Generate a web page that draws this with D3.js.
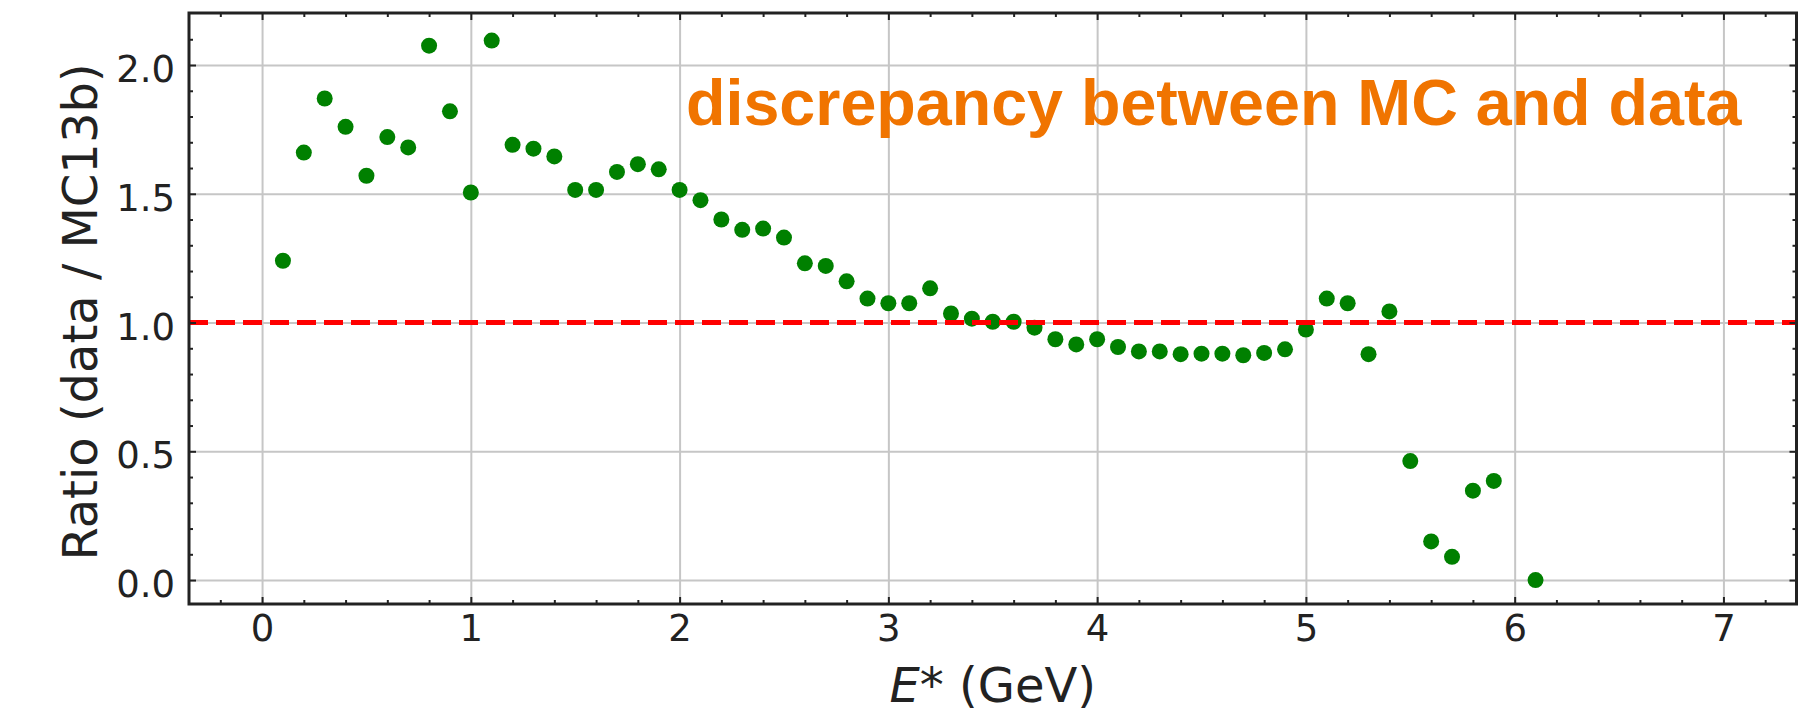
<!DOCTYPE html>
<html>
<head>
<meta charset="utf-8">
<script src="https://cdn.jsdelivr.net/npm/d3@7"></script>
<style>
  body { margin: 0; background: #fff; }
  svg { display: block; font-family: 'DejaVu Sans', sans-serif; }
  .grid line { stroke: #c6c6c6; stroke-width: 2; }
  .grid .domain { display: none; }
  .ticks line { stroke: #222; stroke-width: 2; }
  .ticks .domain { display: none; }
  .tick-label { font-family: 'DejaVu Sans', sans-serif; font-size: 37px; fill: #222; }
  .axis-label { font-family: 'DejaVu Sans', sans-serif; font-size: 48px; fill: #222; }
  .title { font-family: 'Liberation Sans', Arial, sans-serif; font-weight: bold; font-size: 64.6px; fill: #f07400; }
</style>
</head>
<body>
<svg width="1819" height="717"></svg>
<script>
// E* bin centres (GeV) and measured ratio data / MC13b
const energies = [0.1, 0.2, 0.3, 0.4, 0.5, 0.6, 0.7, 0.8, 0.9, 1.0,
                  1.1, 1.2, 1.3, 1.4, 1.5, 1.6, 1.7, 1.8, 1.9, 2.0,
                  2.1, 2.2, 2.3, 2.4, 2.5, 2.6, 2.7, 2.8, 2.9, 3.0,
                  3.1, 3.2, 3.3, 3.4, 3.5, 3.6, 3.7, 3.8, 3.9, 4.0,
                  4.1, 4.2, 4.3, 4.4, 4.5, 4.6, 4.7, 4.8, 4.9, 5.0,
                  5.1, 5.2, 5.3, 5.4, 5.5, 5.6, 5.7, 5.8, 5.9, 6.1];
const ratios = [1.24, 1.66, 1.87, 1.76, 1.57, 1.72, 1.68, 2.075, 1.82, 1.505,
                2.095, 1.69, 1.675, 1.645, 1.515, 1.515, 1.585, 1.615, 1.595, 1.515,
                1.475, 1.40, 1.36, 1.365, 1.33, 1.23, 1.22, 1.16, 1.093, 1.075,
                1.075, 1.133, 1.035, 1.015, 1.003, 1.003, 0.98, 0.935, 0.915, 0.935,
                0.905, 0.888, 0.888, 0.877, 0.879, 0.879, 0.873, 0.882, 0.896, 0.973,
                1.093, 1.075, 0.877, 1.043, 0.462, 0.15, 0.09, 0.347, 0.385, 0.0];
const xMajorTicks = [0, 1, 2, 3, 4, 5, 6, 7];
const yMajorTicks = [0.0, 0.5, 1.0, 1.5, 2.0];
const referenceRatio = 1.0;

const title = 'discrepancy between MC and data';
const xAxisLabel = 'E';
const yAxisLabel = 'Ratio (data / MC13b)';

const data = energies.map((e, i) => ({ energy: e, ratio: ratios[i] }));

const svg = d3.select('svg');
const width = +svg.attr('width');
const height = +svg.attr('height');

const margin = { top: 13, right: 22.5, bottom: 113, left: 189 };
const innerWidth = width - margin.left - margin.right;
const innerHeight = height - margin.top - margin.bottom;

svg.append('rect').attr('width', width).attr('height', height).attr('fill', '#fff');

const xScale = d3.scaleLinear()
    .domain([-0.35, 7.35])
    .range([0, innerWidth]);

const yScale = d3.scaleLinear()
    .domain([-0.093, 2.202])
    .range([innerHeight, 0]);

const xMinorTicks = d3.range(-0.2, 7.35, 0.2).map(v => +v.toFixed(1)).filter(v => !xMajorTicks.includes(v));
const yMinorTicks = d3.range(0, 2.2, 0.1).map(v => +v.toFixed(1)).filter(v => !yMajorTicks.includes(v));

// axis groups used only for lines: drop their empty text nodes
const noText = sel => sel.selectAll('text').remove();

const g = svg.append('g')
    .attr('transform', `translate(${margin.left},${margin.top})`);

// grid
g.append('g').attr('class', 'grid')
    .attr('transform', `translate(0,${innerHeight})`)
    .call(d3.axisBottom(xScale).tickValues(xMajorTicks).tickSize(-innerHeight))
    .call(noText);
g.append('g').attr('class', 'grid')
    .call(d3.axisLeft(yScale).tickValues(yMajorTicks).tickSize(-innerWidth))
    .call(noText);

// points
g.selectAll('circle').data(data)
    .enter().append('circle')
    .attr('cx', d => xScale(d.energy))
    .attr('cy', d => yScale(d.ratio))
    .attr('r', 8)
    .attr('fill', '#008000');

// reference line at ratio = 1
g.append('line')
    .attr('x1', 0).attr('x2', innerWidth)
    .attr('y1', yScale(referenceRatio)).attr('y2', yScale(referenceRatio))
    .attr('stroke', '#ff0000')
    .attr('stroke-width', 5)
    .attr('stroke-dasharray', '19,8');

// inward ticks on all four sides
const majorLen = 7, minorLen = 4;

const xAxisG = g.append('g').attr('class', 'ticks')
    .attr('transform', `translate(0,${innerHeight})`)
    .call(d3.axisBottom(xScale).tickValues(xMajorTicks).tickSize(-majorLen).tickPadding(11).tickFormat(d3.format('d')));
xAxisG.attr('font-size', null).attr('font-family', null);
xAxisG.selectAll('text').attr('class', 'tick-label').attr('dy', '0.71em');
g.append('g').attr('class', 'ticks')
    .attr('transform', `translate(0,${innerHeight})`)
    .call(d3.axisBottom(xScale).tickValues(xMinorTicks).tickSize(-minorLen))
    .call(noText);
g.append('g').attr('class', 'ticks')
    .call(d3.axisTop(xScale).tickValues(xMajorTicks).tickSize(-majorLen))
    .call(noText);
g.append('g').attr('class', 'ticks')
    .call(d3.axisTop(xScale).tickValues(xMinorTicks).tickSize(-minorLen))
    .call(noText);

const yAxisG = g.append('g').attr('class', 'ticks')
    .call(d3.axisLeft(yScale).tickValues(yMajorTicks).tickSize(-majorLen).tickPadding(14).tickFormat(d3.format('.1f')));
yAxisG.attr('font-size', null).attr('font-family', null);
yAxisG.selectAll('text').attr('class', 'tick-label').attr('dy', '0.45em');
g.append('g').attr('class', 'ticks')
    .call(d3.axisLeft(yScale).tickValues(yMinorTicks).tickSize(-minorLen))
    .call(noText);
g.append('g').attr('class', 'ticks')
    .attr('transform', `translate(${innerWidth},0)`)
    .call(d3.axisRight(yScale).tickValues(yMajorTicks).tickSize(-majorLen))
    .call(noText);
g.append('g').attr('class', 'ticks')
    .attr('transform', `translate(${innerWidth},0)`)
    .call(d3.axisRight(yScale).tickValues(yMinorTicks).tickSize(-minorLen))
    .call(noText);

// frame
g.append('rect')
    .attr('width', innerWidth)
    .attr('height', innerHeight)
    .attr('fill', 'none')
    .attr('stroke', '#222')
    .attr('stroke-width', 3);

// labels
const xLabel = g.append('text')
    .attr('class', 'axis-label')
    .attr('x', innerWidth / 2)
    .attr('y', 702 - margin.top)
    .attr('text-anchor', 'middle');
xLabel.append('tspan').attr('font-style', 'italic').text(xAxisLabel);
xLabel.append('tspan').text('* (GeV)');

g.append('text')
    .attr('class', 'axis-label')
    .attr('transform', `translate(${97 - margin.left},${312 - margin.top}) rotate(-90)`)
    .attr('text-anchor', 'middle')
    .text(yAxisLabel);

g.append('text')
    .attr('class', 'title')
    .attr('x', 686 - margin.left)
    .attr('y', 125 - margin.top)
    .text(title);
</script>
</body>
</html>
